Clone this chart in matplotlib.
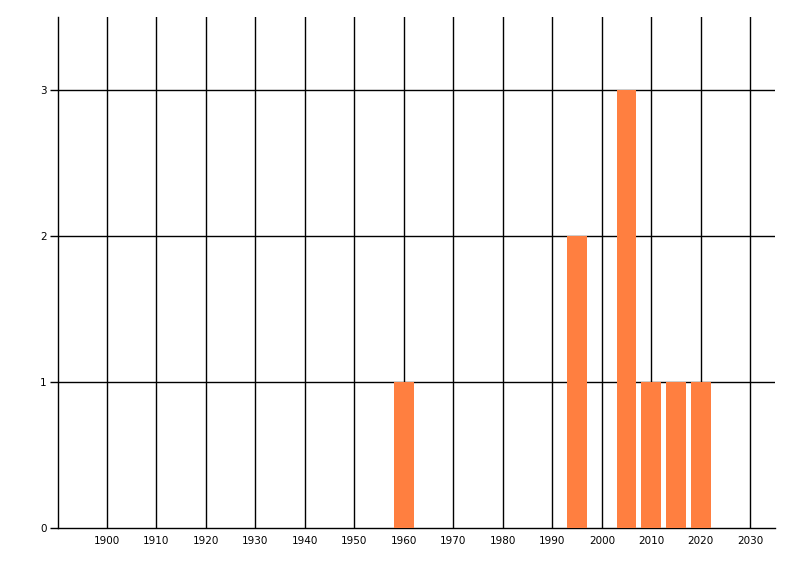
import matplotlib
matplotlib.use("Agg")
import matplotlib.pyplot as plt

years = [1960, 1995, 2005, 2010, 2015, 2020]
counts = [1, 2, 3, 1, 1, 1]
x_ticks = list(range(1900, 2031, 10))
y_ticks = [0, 1, 2, 3]

fig = plt.figure(figsize=(8, 5.76), dpi=100)
ax = fig.add_axes([0.0719, 0.0833, 0.8969, 0.8872])

ax.bar(years, counts, width=4, color="#ff7f40", zorder=3)

ax.set_xlim(1890, 2035)
ax.set_ylim(0, 3.5)

# grid lines
for x in x_ticks:
    ax.axvline(x, color="black", lw=1.0, zorder=1)
for y in y_ticks[1:]:
    ax.axhline(y, color="black", lw=1.0, zorder=1)

ax.set_xticks(x_ticks)
ax.set_yticks(y_ticks)
ax.tick_params(axis="x", length=0, pad=6, labelsize=7.5)
ax.tick_params(axis="y", length=6, width=1.0, pad=2, labelsize=7.5)

for side in ["top", "right"]:
    ax.spines[side].set_visible(False)
ax.spines["left"].set_linewidth(1.0)
ax.spines["bottom"].set_linewidth(1.0)

fig.savefig("out.png", dpi=100)
